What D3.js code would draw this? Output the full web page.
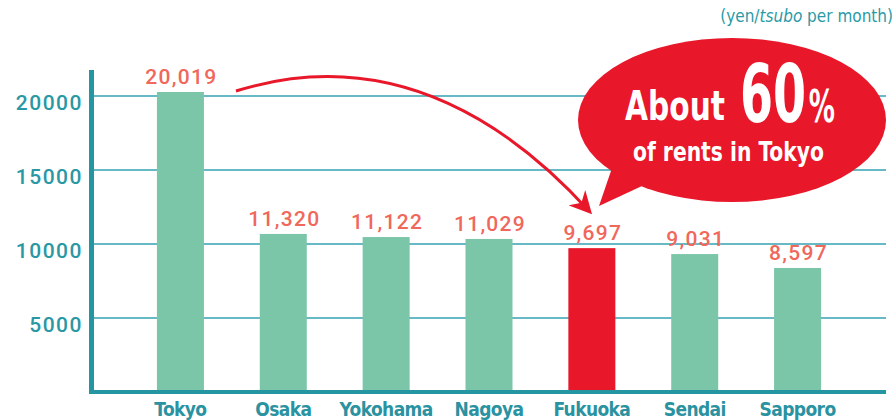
<!DOCTYPE html>
<html>
<head>
<meta charset="utf-8">
<script src="https://cdn.jsdelivr.net/npm/d3@7"></script>
<style>
  body { margin: 0; background: #fff; }
  svg { display: block; }
  .narrow { font-family: "DejaVu Sans Condensed", "DejaVu Sans", sans-serif; font-stretch: condensed; font-weight: bold; }
</style>
</head>
<body>
<div id="chart"></div>
<script>
// cities and rents (yen / tsubo per month)
const cities = ["Tokyo", "Osaka", "Yokohama", "Nagoya", "Fukuoka", "Sendai", "Sapporo"];
const rents = [20019, 11320, 11122, 11029, 9697, 9031, 8597];
// heights the bars are actually drawn at in the source graphic (read against the gridlines)
const barHeights = [20270, 10680, 10470, 10340, 9720, 9320, 8380];
const yTicks = [5000, 10000, 15000, 20000];
const highlight = "Fukuoka";

const w = 895;
const h = 420;
const teal = "#2596a1";

const svg = d3.select("#chart")
  .append("svg")
  .attr("width", w)
  .attr("height", h);

const xScale = d3.scaleBand()
  .domain(cities)
  .range([129, 849])
  .paddingInner(0.543)
  .paddingOuter(0.2715);

const yScale = d3.scaleLinear()
  .domain([0, 20000])
  .range([392, 96]);

// gridlines
svg.append("g")
  .selectAll("line")
  .data(yTicks)
  .join("line")
  .attr("x1", 92)
  .attr("x2", 886)
  .attr("y1", d => yScale(d))
  .attr("y2", d => yScale(d))
  .attr("stroke", "#34a2b2")
  .attr("stroke-width", 1.5);

// y tick labels
const yAxis = d3.axisLeft(yScale)
  .tickValues(yTicks)
  .tickFormat(d3.format("d"))
  .tickSize(0)
  .tickPadding(0);
svg.append("g")
  .attr("transform", "translate(83,0)")
  .call(yAxis)
  .call(g => g.select(".domain").remove())
  .selectAll("text")
  .attr("dy", "0.62em")
  .style("font-family", "Roboto, 'Liberation Sans', sans-serif")
  .style("font-weight", "500")
  .style("font-size", "21px")
  .style("letter-spacing", "1.5px")
  .style("fill", "#2a98a4");

// bars
svg.append("g")
  .selectAll("rect")
  .data(cities)
  .join("rect")
  .attr("x", d => xScale(d))
  .attr("width", xScale.bandwidth())
  .attr("y", (d, i) => yScale(barHeights[i]))
  .attr("height", (d, i) => yScale(0) - yScale(barHeights[i]))
  .attr("fill", d => d === highlight ? "#e8172a" : "#7bc6a8");

// value labels
svg.append("g")
  .selectAll("text")
  .data(cities)
  .join("text")
  .attr("x", d => xScale(d) + xScale.bandwidth() / 2 + 1)
  .attr("y", (d, i) => yScale(barHeights[i]) - 8)
  .attr("text-anchor", "middle")
  .style("font-family", "Roboto, 'Liberation Sans', sans-serif")
  .style("font-weight", "500")
  .style("font-size", "21px")
  .style("letter-spacing", "1.3px")
  .style("fill", "#f0675b")
  .text((d, i) => d3.format(",")(rents[i]));

// axes lines
svg.append("line")
  .attr("x1", 91.5).attr("x2", 91.5)
  .attr("y1", 70).attr("y2", 394)
  .attr("stroke", teal)
  .attr("stroke-width", 5);

svg.append("line")
  .attr("x1", 89).attr("x2", 886)
  .attr("y1", 392).attr("y2", 392)
  .attr("stroke", teal)
  .attr("stroke-width", 4);

// category labels
const xAxis = d3.axisBottom(xScale).tickSize(0).tickPadding(0);
svg.append("g")
  .attr("transform", "translate(0,416)")
  .call(xAxis)
  .call(g => g.select(".domain").remove())
  .selectAll("text")
  .attr("dy", 0)
  .attr("class", "narrow")
  .style("font-size", "19px")
  .style("letter-spacing", "-0.6px")
  .style("fill", "#2a92a0");

// unit label
svg.append("text")
  .attr("x", 893)
  .attr("y", 22)
  .attr("text-anchor", "end")
  .attr("class", "narrow")
  .style("font-weight", "normal")
  .style("font-size", "17px")
  .style("fill", "#2a9aa6")
  .call(t => {
    t.append("tspan").text("(yen/");
    t.append("tspan").style("font-style", "italic").text("tsubo");
    t.append("tspan").text(" per month)");
  });

// arrow from Tokyo to Fukuoka
svg.append("defs")
  .append("marker")
  .attr("id", "head")
  .attr("viewBox", "0 0 10 10")
  .attr("refX", 8)
  .attr("refY", 5)
  .attr("markerWidth", 7.5)
  .attr("markerHeight", 7.5)
  .attr("orient", "auto")
  .append("path")
  .attr("d", "M0,0 L10,5 L0,10 L3,5 Z")
  .attr("fill", "#e8172a");

svg.append("path")
  .attr("d", "M236,91 C400,40 520,135 589,211")
  .attr("fill", "none")
  .attr("stroke", "#e8172a")
  .attr("stroke-width", 3)
  .attr("marker-end", "url(#head)");

// speech bubble
const bubble = svg.append("g");
bubble.append("path")
  .attr("d", "M612,168 L599,206 L642,186 Z")
  .attr("fill", "#e8172a");
bubble.append("ellipse")
  .attr("cx", 732)
  .attr("cy", 120)
  .attr("rx", 154)
  .attr("ry", 82)
  .attr("fill", "#e8172a");

bubble.append("text")
  .attr("x", 625)
  .attr("y", 120)
  .attr("class", "narrow")
  .attr("textLength", 100)
  .attr("lengthAdjust", "spacingAndGlyphs")
  .style("font-size", "41px")
  .style("fill", "#fff")
  .text("About");

// "60%" as one text, condensed by a horizontal scale
bubble.append("text")
  .attr("transform", "translate(740,122) scale(0.66,1)")
  .attr("class", "narrow")
  .style("fill", "#fff")
  .call(t => {
    t.append("tspan").style("font-size", "80px").text("60");
    t.append("tspan").attr("dx", 4).style("font-size", "44px").text("%");
  });

bubble.append("text")
  .attr("x", 633)
  .attr("y", 161)
  .attr("class", "narrow")
  .attr("textLength", 191)
  .attr("lengthAdjust", "spacingAndGlyphs")
  .style("font-size", "27px")
  .style("fill", "#fff")
  .text("of rents in Tokyo");
</script>
</body>
</html>
